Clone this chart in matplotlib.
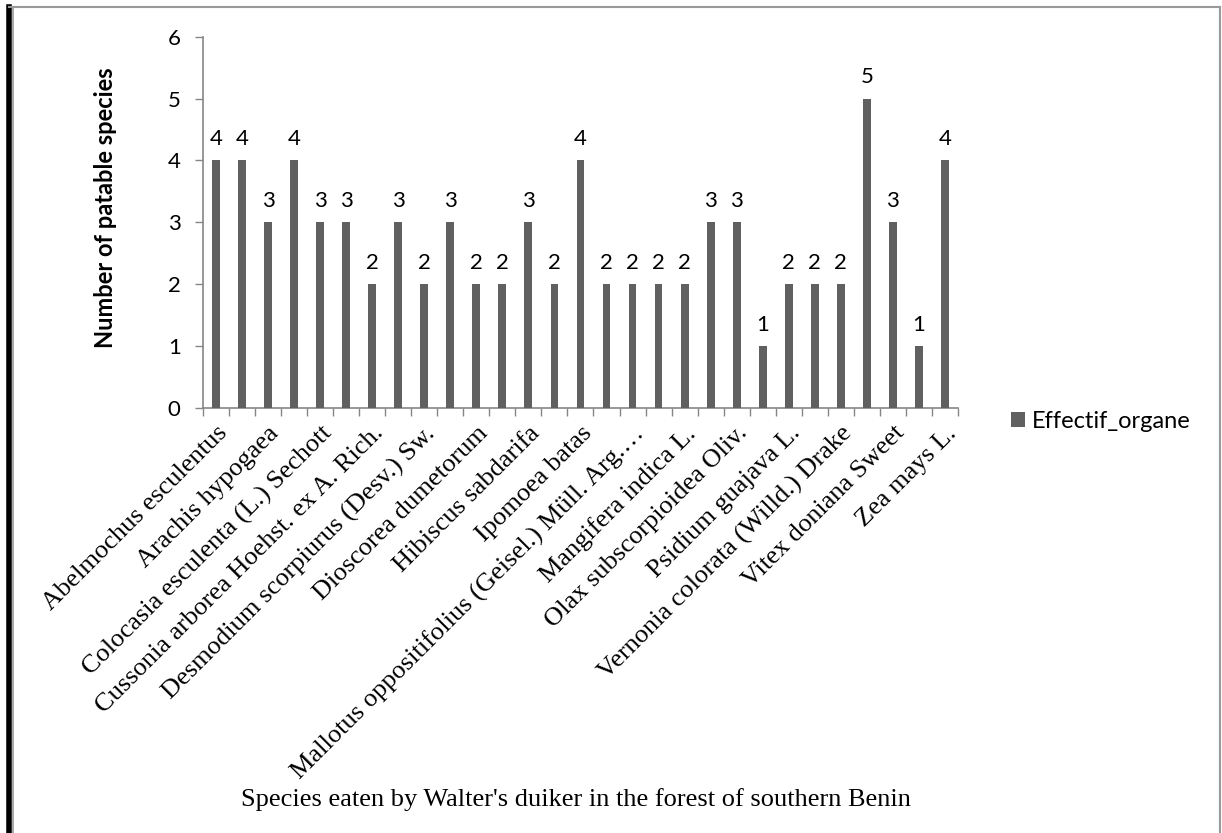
import numpy as np
import matplotlib
matplotlib.use('Agg')
import matplotlib.pyplot as plt
from matplotlib.lines import Line2D

# values, left to right (29 bars, every other one labelled)
values = [4, 4, 3, 4, 3, 3, 2, 3, 2, 3, 2, 2, 3, 2, 4, 2, 2, 2, 2, 3, 3, 1, 2, 2, 2, 5, 3, 1, 4]

# tick labels visible on the axis (on bars 1, 3, 5, ... 29)
shown_labels = [
    'Abelmochus esculentus',
    'Arachis hypogaea',
    'Colocasia esculenta (L.) Sechott',
    'Cussonia arborea Hoehst. ex A. Rich.',
    'Desmodium scorpiurus (Desv.) Sw.',
    'Dioscorea dumetorum',
    'Hibiscus sabdarifa',
    'Ipomoea batas',
    'Mallotus oppositifolius (Geisel.) Müll. Arg.…',
    'Mangifera indica L.',
    'Olax subscorpioidea Oliv.',
    'Psidium guajava L.',
    'Vernonia colorata (Willd.) Drake',
    'Vitex doniana Sweet',
    'Zea mays L.',
]

series_name = 'Effectif_organe'
y_title = 'Number of patable species'
x_title = "Species eaten by Walter's duiker in the forest of southern Benin"

bar_color = '#606060'
axis_color = '#868686'
sans = ['Lato', 'DejaVu Sans']
serif = ['Liberation Serif', 'DejaVu Serif']

fig = plt.figure(figsize=(12.22, 8.33), dpi=100)
ax = fig.add_axes([0.166, 0.510, 0.618, 0.446])

x = np.arange(len(values))
bars = ax.bar(x, values, width=0.3, color=bar_color, label=series_name, zorder=3)

for xi, v in zip(x, values):
    ax.annotate(str(v), (xi, v), xytext=(0, 8), textcoords='offset points',
                ha='center', va='bottom', fontsize=16, family=sans, color='black')

ax.set_xlim(-0.5, len(values) - 0.5)
ax.set_ylim(0, 6)
ax.set_yticks(range(7))
ax.set_yticklabels([str(i) for i in range(7)], family=sans, fontsize=16)

ax.set_xticks(x[::2])
ax.set_xticklabels(shown_labels, rotation=45, ha='right', rotation_mode='anchor',
                   family=serif, fontsize=19)
ax.set_xticks(np.arange(len(values) + 1) - 0.5, minor=True)
ax.tick_params(axis='x', which='major', length=0, pad=10)
ax.tick_params(axis='x', which='minor', length=6, color=axis_color, width=1)
ax.tick_params(axis='y', length=6, color=axis_color, width=1, pad=10)

for s in ['top', 'right']:
    ax.spines[s].set_visible(False)
for s in ['left', 'bottom']:
    ax.spines[s].set_color(axis_color)
    ax.spines[s].set_linewidth(1.2)

ax.set_ylabel(y_title, fontsize=17, fontweight='bold', family=sans)
ax.yaxis.set_label_coords(-0.114, 0.54)
fig.text(0.471, 0.040, x_title, ha='center', va='center', family=serif, fontsize=19)

fig.legend(handles=[bars], labels=[series_name], loc='center left',
           bbox_to_anchor=(0.810, 0.494), frameon=False, handlelength=0.6,
           handleheight=0.6, handletextpad=0.3, prop={'family': sans, 'size': 17})

# outer frame like the pasted chart box
fig.add_artist(Line2D([0.0075, 0.0075], [0, 0.992], color='black', lw=4))
fig.add_artist(Line2D([0.0105, 0.0105], [0, 0.992], color='#999999', lw=1.2))
fig.add_artist(Line2D([0.0075, 0.9985], [0.992, 0.992], color='#999999', lw=1.5))
fig.add_artist(Line2D([0.9985, 0.9985], [0, 0.992], color='#999999', lw=1.5))

fig.savefig('out.png', dpi=100)
